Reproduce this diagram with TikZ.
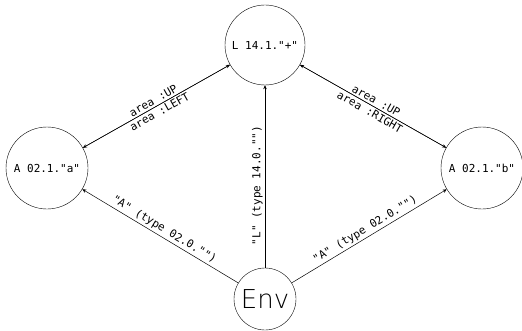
\documentclass[tikz,border=0pt]{standalone}
\usepackage{fontspec}
\setmonofont{DejaVu Sans Mono}
\newfontfamily\envfont{DejaVu Sans ExtraLight}
\usetikzlibrary{arrows.meta}

\begin{document}
\begin{tikzpicture}[x=1pt,y=1pt,
  state/.style={draw, circle, inner sep=0pt, minimum size=82pt, font=\ttfamily\fontsize{11}{13}\selectfont},
  envstate/.style={draw, circle, inner sep=0pt, minimum size=62pt, font=\envfont\fontsize{26}{28}\selectfont},
  lbl/.style={font=\ttfamily\fontsize{11}{13}\selectfont, sloped, inner sep=2pt},
  link/.style={-{Stealth[length=4pt,width=3.5pt]}, line width=0.5pt}]
\useasboundingbox (0,0) rectangle (522,330);
\node[state, minimum size=80pt] (lplus) at (265,285) {L 14.1."+"};
\node[state] (aa) at (47,162) {A 02.1."a"};
\node[state] (ab) at (482,162) {A 02.1."b"};
\node[envstate] (env) at (265,31) {Env};
\draw[link] (env) -- (lplus) node[lbl, pos=0.45, above] {"L" (type 14.0."")};
\draw[link] (env) -- (aa) node[lbl, midway, above] {"A" (type 02.0."")};
\draw[link] (env) -- (ab) node[lbl, midway, above] {"A" (type 02.0."")};
\draw[link] (aa) -- (lplus) node[lbl, midway, above] {area :UP};
\draw[link] (lplus) -- (aa) node[lbl, midway, below] {area :LEFT};
\draw[link] (ab) -- (lplus) node[lbl, midway, above] {area :UP};
\draw[link] (lplus) -- (ab) node[lbl, midway, below] {area :RIGHT};
\end{tikzpicture}
\end{document}
